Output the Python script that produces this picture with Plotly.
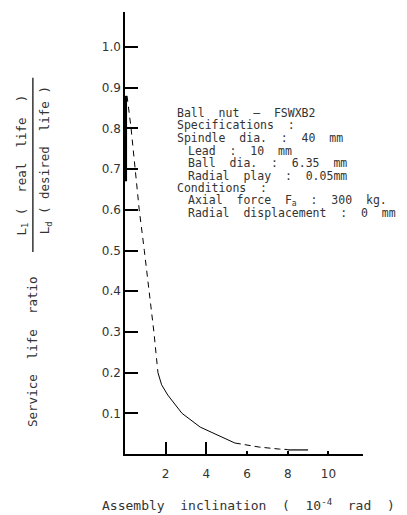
import plotly.graph_objects as go

# ---- data ----
steep_x = [0.04, 0.04]
steep_y = [0.67, 0.88]

dash1_x = [0.1, 0.3, 0.5, 0.7, 0.95, 1.2, 1.42, 1.62]
dash1_y = [0.88, 0.8, 0.7, 0.6, 0.5, 0.4, 0.3, 0.2]

solid_x = [1.62, 1.8, 2.1, 2.8, 3.7, 4.7, 5.4]
solid_y = [0.2, 0.17, 0.145, 0.1, 0.066, 0.042, 0.027]

dash2_x = [5.4, 6.6, 7.6, 8.0]
dash2_y = [0.027, 0.017, 0.012, 0.011]

tail_x = [8.0, 9.0]
tail_y = [0.01, 0.01]

y_ticks = [0.1, 0.2, 0.3, 0.4, 0.5, 0.6, 0.7, 0.8, 0.9, 1.0]
y_labels = ["0.1", "0.2", "0.3", "0.4", "0.5", "0.6", "0.7", "0.8", "0.9", "1.0"]
x_ticks_long = [2, 4]
x_ticks_all = [2, 4, 6, 8, 10]
x_labels = ["2", "4", "6", "8", "10"]

spec_lines = [
    ("Ball  nut  \u2013  FSWXB2", 0),
    ("Specifications  :", 0),
    ("Spindle  dia.  :  40  mm", 0),
    ("Lead  :  10  mm", 1),
    ("Ball  dia.  :  6.35  mm", 1),
    ("Radial  play  :  0.05mm", 1),
    ("Conditions  :", 0),
    ("Axial  force  F<sub>a</sub>  :  300  kg.", 1),
    ("Radial  displacement  :  0  mm", 1),
]

FONT = "DejaVu Sans Mono"
TICKFONT = "DejaVu Sans"
TXT = "#333333"

fig = go.Figure()
fig.add_trace(go.Scatter(x=steep_x, y=steep_y, mode="lines",
                         line=dict(color="black", width=2.5), showlegend=False))
fig.add_trace(go.Scatter(x=dash1_x, y=dash1_y, mode="lines",
                         line=dict(color="black", width=1, dash="6px,5px"), showlegend=False))
fig.add_trace(go.Scatter(x=solid_x, y=solid_y, mode="lines",
                         line=dict(color="black", width=1), showlegend=False))
fig.add_trace(go.Scatter(x=dash2_x, y=dash2_y, mode="lines",
                         line=dict(color="black", width=1, dash="6px,4px"), showlegend=False))
fig.add_trace(go.Scatter(x=tail_x, y=tail_y, mode="lines",
                         line=dict(color="black", width=1.2), showlegend=False))
# invisible trace to anchor the overlay axis with the long ticks
fig.add_trace(go.Scatter(x=[0, 11.7], y=[0, 0], xaxis="x2", mode="lines",
                         line=dict(width=0), hoverinfo="skip", showlegend=False))

# page body has an 8px margin, so the figure is 8px smaller and offset
fig.update_layout(
    width=399, height=507,
    margin=dict(l=117, r=44, t=4, b=61),
    paper_bgcolor="white", plot_bgcolor="white",
    font=dict(family=FONT, color=TXT),
    xaxis=dict(range=[0, 11.7], showgrid=False, zeroline=False,
               showline=True, linecolor="black", linewidth=1.5,
               ticks="inside", ticklen=3, tickcolor="black", tickwidth=1.5,
               tickvals=x_ticks_all, ticktext=x_labels, ticklabelstandoff=8,
               tickfont=dict(family=TICKFONT, size=12, color=TXT)),
    xaxis2=dict(range=[0, 11.7], overlaying="x", anchor="y", showgrid=False,
                zeroline=False, showline=False, ticks="inside", ticklen=12,
                tickcolor="black", tickwidth=1.5, tickvals=x_ticks_long,
                showticklabels=False, side="bottom"),
    yaxis=dict(range=[0, 1.086], showgrid=False, zeroline=False,
               showline=True, linecolor="black", linewidth=1.5,
               ticks="inside", ticklen=13, tickcolor="black", tickwidth=1.5,
               tickvals=y_ticks, ticktext=y_labels,
               tickfont=dict(family=TICKFONT, size=12, color=TXT)),
)

ann = [
    dict(text="Assembly  inclination  (  10<sup>-4</sup>  rad  )", xref="paper", yref="paper",
         x=(248 - 125) / 238, y=-0.115, xanchor="center", yanchor="middle", showarrow=False,
         font=dict(family=FONT, size=13, color=TXT)),
    dict(text="Service  life  ratio", xref="paper", yref="paper",
         x=-0.391, y=0.233, textangle=-90, xanchor="center", yanchor="middle",
         showarrow=False, font=dict(family=FONT, size=12.5, color=TXT)),
    dict(text="L<sub>1</sub> (  real  life  )", xref="paper", yref="paper",
         x=-0.43, y=0.654, textangle=-90, xanchor="center", yanchor="middle",
         showarrow=False, font=dict(family=FONT, size=12.5, color=TXT)),
    dict(text="L<sub>d</sub> ( desired  life )", xref="paper", yref="paper",
         x=-0.335, y=0.665, textangle=-90, xanchor="center", yanchor="middle",
         showarrow=False, font=dict(family=FONT, size=12.5, color=TXT)),
]
for i, (t, ind) in enumerate(spec_lines):
    px = 175 + 11 * ind
    py = 113 + 12.5 * i
    ann.append(dict(text=t, xref="paper", yref="paper",
                    x=(px - 125) / 238, y=(454 - py) / 442,
                    xanchor="left", yanchor="middle", showarrow=False,
                    font=dict(family=FONT, size=11.5, color=TXT)))
fig.update_layout(annotations=ann)

fig.add_shape(type="line", xref="paper", yref="paper",
              x0=-0.387, x1=-0.387, y0=0.457, y1=0.851,
              line=dict(color="black", width=1.2))

fig.write_html("out.html")
